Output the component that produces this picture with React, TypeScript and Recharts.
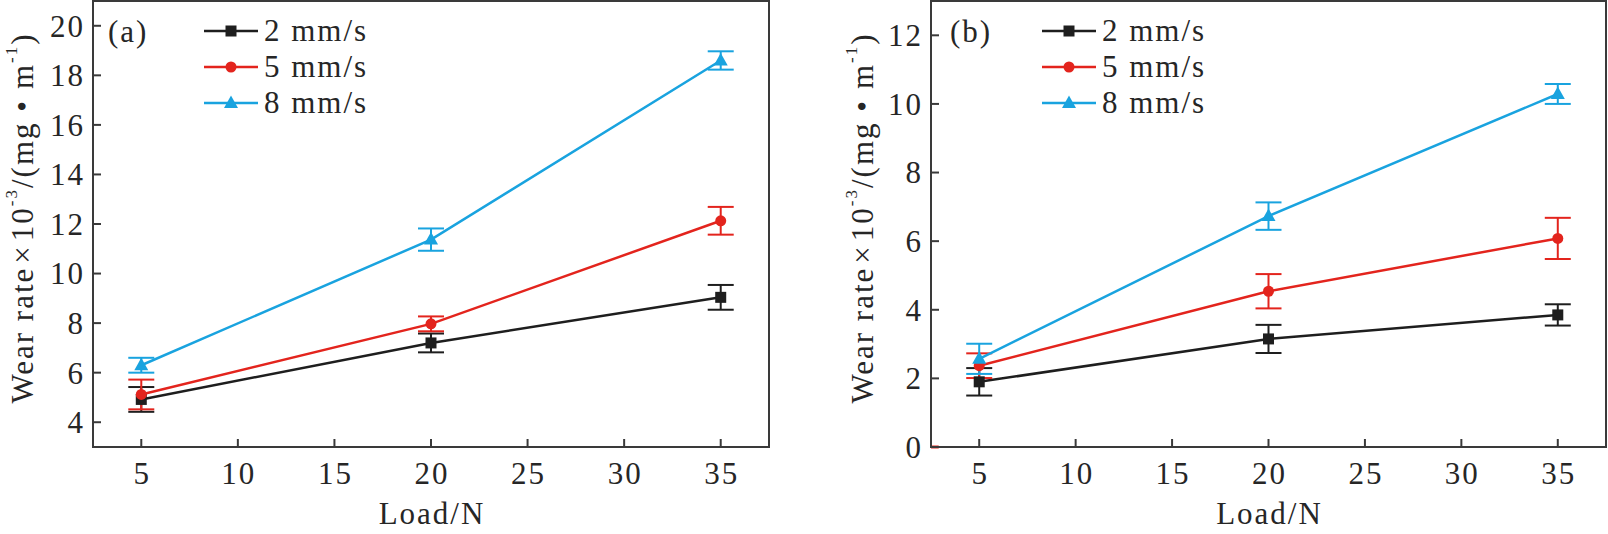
import { LineChart, Line, XAxis, YAxis, ErrorBar, Legend, ReferenceArea, ReferenceLine } from 'recharts';

// loads on the x axis (N)
const loads = [5, 20, 35];
const speedLabels = ['2 mm/s', '5 mm/s', '8 mm/s'];
const seriesColors = ['#1e1e1e', '#e3241d', '#19a3df'];
const markerShapes = ['square', 'circle', 'triangle'];

// panel (a) wear rate and error
const rateA2 = [4.92, 7.2, 9.04];
const errA2 = [0.5, 0.38, 0.5];
const rateA5 = [5.12, 7.97, 12.13];
const errA5 = [0.6, 0.3, 0.56];
const rateA8 = [6.3, 11.37, 18.6];
const errA8 = [0.3, 0.45, 0.37];

// panel (b) wear rate and error
const rateB2 = [1.9, 3.15, 3.85];
const errB2 = [0.4, 0.41, 0.31];
const rateB5 = [2.37, 4.54, 6.08];
const errB5 = [0.36, 0.5, 0.6];
const rateB8 = [2.57, 6.73, 10.29];
const errB8 = [0.44, 0.4, 0.29];

const xTicks = [5, 10, 15, 20, 25, 30, 35];
const yTicksA = [4, 6, 8, 10, 12, 14, 16, 18, 20];
const yTicksB = [0, 2, 4, 6, 8, 10, 12];

const FONT = '"Liberation Serif", "Times New Roman", serif';
const TEXT = '#262626';
const AXIS = '#3a3a3a';
const PLOT_TOP = 1;
const PLOT_BOTTOM = 447;
const FS = 31;
const LS = 2;

function buildRows(values: number[][], errors: number[][]) {
  return loads.map((load, i) => ({
    load,
    s0: values[0][i], e0: errors[0][i],
    s1: values[1][i], e1: errors[1][i],
    s2: values[2][i], e2: errors[2][i],
  }));
}

const dataA = buildRows([rateA2, rateA5, rateA8], [errA2, errA5, errA8]);
const dataB = buildRows([rateB2, rateB5, rateB8], [errB2, errB5, errB8]);

function Marker({ cx, cy, shape, color }: { cx: number; cy: number; shape: string; color: string }) {
  if (shape === 'square') return <rect x={cx - 5.5} y={cy - 5.5} width={11} height={11} fill={color} />;
  if (shape === 'circle') return <circle cx={cx} cy={cy} r={5.5} fill={color} />;
  return <polygon points={`${cx},${cy - 7.5} ${cx + 7},${cy + 5} ${cx - 7},${cy + 5}`} fill={color} />;
}

const XTick = (props: any) => {
  const { x, payload } = props;
  return (
    <g>
      <line x1={x} x2={x} y1={PLOT_BOTTOM} y2={PLOT_BOTTOM - 8} stroke={AXIS} strokeWidth={2} />
      <text x={x + LS / 2} y={484} textAnchor="middle" fontFamily={FONT} fontSize={FS} letterSpacing={LS} fill={TEXT}>
        {payload.value}
      </text>
    </g>
  );
};

const makeYTick = (plotLeft: number) => (props: any) => {
  const { y, payload } = props;
  return (
    <g>
      <line x1={plotLeft} x2={plotLeft + 8} y1={y} y2={y} stroke={AXIS} strokeWidth={2} />
      <text
        x={plotLeft - 8}
        y={y}
        dy="0.35em"
        textAnchor="end"
        fontFamily={FONT}
        fontSize={FS}
        letterSpacing={LS}
        fill={TEXT}
      >
        {payload.value}
      </text>
    </g>
  );
};

function YTitle({ cx, cy }: { cx: number; cy: number }) {
  return (
    <text
      x={cx}
      y={cy}
      transform={`rotate(-90 ${cx} ${cy})`}
      textAnchor="middle"
      dominantBaseline="central"
      fontFamily={FONT}
      fontSize={FS}
      letterSpacing={LS}
      fill={TEXT}
    >
      <tspan>Wear rate</tspan>
      <tspan dx={3}>×</tspan>
      <tspan dx={3}>10</tspan>
      <tspan dy={-11} fontSize={17}>-3</tspan>
      <tspan dy={11}>/(mg • m</tspan>
      <tspan dy={-11} fontSize={17}>-1</tspan>
      <tspan dy={11}>)</tspan>
    </text>
  );
}

function XTitle({ cx }: { cx: number }) {
  return (
    <text x={cx + LS / 2} y={524} textAnchor="middle" fontFamily={FONT} fontSize={FS} letterSpacing={LS} fill={TEXT}>
      Load/N
    </text>
  );
}

const renderLegend = () => (
  <div style={{ fontFamily: FONT, fontSize: FS, color: TEXT, letterSpacing: LS }}>
    {speedLabels.map((label, k) => (
      <div key={label} style={{ display: 'flex', alignItems: 'center', height: 36 }}>
        <svg width={56} height={20} style={{ marginRight: 5 }}>
          <line x1={1} x2={55} y1={10} y2={10} stroke={seriesColors[k]} strokeWidth={2.5} />
          <Marker cx={28} cy={10} shape={markerShapes[k]} color={seriesColors[k]} />
        </svg>
        <span style={{ lineHeight: '36px', whiteSpace: 'nowrap' }}>{label}</span>
      </div>
    ))}
  </div>
);

interface PanelProps {
  data: typeof dataA;
  width: number;
  plotLeft: number;
  plotRight: number;
  yDomain: [number, number];
  yTicks: number[];
  yTitleX: number;
  legendLeft: number;
  originMark?: boolean;
}

function Panel({ data, width, plotLeft, plotRight, yDomain, yTicks, yTitleX, legendLeft, originMark }: PanelProps) {
  const yAxisW = 60;
  const xAxisH = 60;
  return (
    <LineChart
      width={width}
      height={534}
      data={data}
      margin={{ top: PLOT_TOP, right: width - plotRight, left: plotLeft - yAxisW, bottom: 534 - PLOT_BOTTOM - xAxisH }}
    >
      <XAxis
        dataKey="load"
        type="number"
        domain={[2.5, 37.5]}
        ticks={xTicks}
        tickLine={false}
        axisLine={{ stroke: AXIS, strokeWidth: 2 }}
        tick={XTick}
        height={xAxisH}
        allowDataOverflow
        label={<XTitle cx={(plotLeft + plotRight) / 2} />}
      />
      <YAxis
        type="number"
        domain={yDomain}
        ticks={yTicks}
        tickLine={false}
        axisLine={{ stroke: AXIS, strokeWidth: 2 }}
        tick={makeYTick(plotLeft)}
        width={yAxisW}
        allowDataOverflow
        label={<YTitle cx={yTitleX} cy={218} />}
      />
      <ReferenceArea
        x1={2.5}
        x2={37.5}
        y1={yDomain[0]}
        y2={yDomain[1]}
        fill="none"
        fillOpacity={0}
        stroke={AXIS}
        strokeWidth={2}
        ifOverflow="visible"
      />
      {originMark && (
        <ReferenceLine
          segment={[{ x: 2.5, y: 0 }, { x: 2.9, y: 0 }]}
          stroke="#e3241d"
          strokeWidth={3}
          ifOverflow="visible"
        />
      )}
      {[0, 1, 2].map((k) => (
        <Line
          key={k}
          dataKey={`s${k}`}
          name={speedLabels[k]}
          stroke={seriesColors[k]}
          strokeWidth={2.5}
          isAnimationActive={false}
          dot={(p: any) => (
            <Marker key={`m${k}-${p.index}`} cx={p.cx} cy={p.cy} shape={markerShapes[k]} color={seriesColors[k]} />
          )}
          activeDot={false}
        >
          <ErrorBar dataKey={`e${k}`} width={13} strokeWidth={2} stroke={seriesColors[k]} direction="y" />
        </Line>
      ))}
      <Legend
        layout="vertical"
        align="center"
        verticalAlign="middle"
        content={renderLegend}
        wrapperStyle={{ left: legendLeft, top: 13, width: 240, height: 108 }}
      />
    </LineChart>
  );
}

export default function App() {
  return (
    <div style={{ position: 'absolute', left: 0, top: 0, width: 1608, height: 534, background: '#fff', fontFamily: FONT }}>
      <div style={{ position: 'absolute', left: 0, top: 0 }}>
        <Panel
          data={dataA}
          width={800}
          plotLeft={93}
          plotRight={769}
          yDomain={[3, 21]}
          yTicks={yTicksA}
          yTitleX={22}
          legendLeft={203}
        />
      </div>
      <div style={{ position: 'absolute', left: 800, top: 0 }}>
        <Panel
          data={dataB}
          width={808}
          plotLeft={131}
          plotRight={806}
          yDomain={[0, 13]}
          yTicks={yTicksB}
          yTitleX={62}
          legendLeft={241}
          originMark
        />
      </div>
      <div style={{ position: 'absolute', left: 108, top: 12, fontSize: FS, color: TEXT, lineHeight: '40px', letterSpacing: LS }}>(a)</div>
      <div style={{ position: 'absolute', left: 950, top: 12, fontSize: FS, color: TEXT, lineHeight: '40px', letterSpacing: LS }}>(b)</div>
    </div>
  );
}
